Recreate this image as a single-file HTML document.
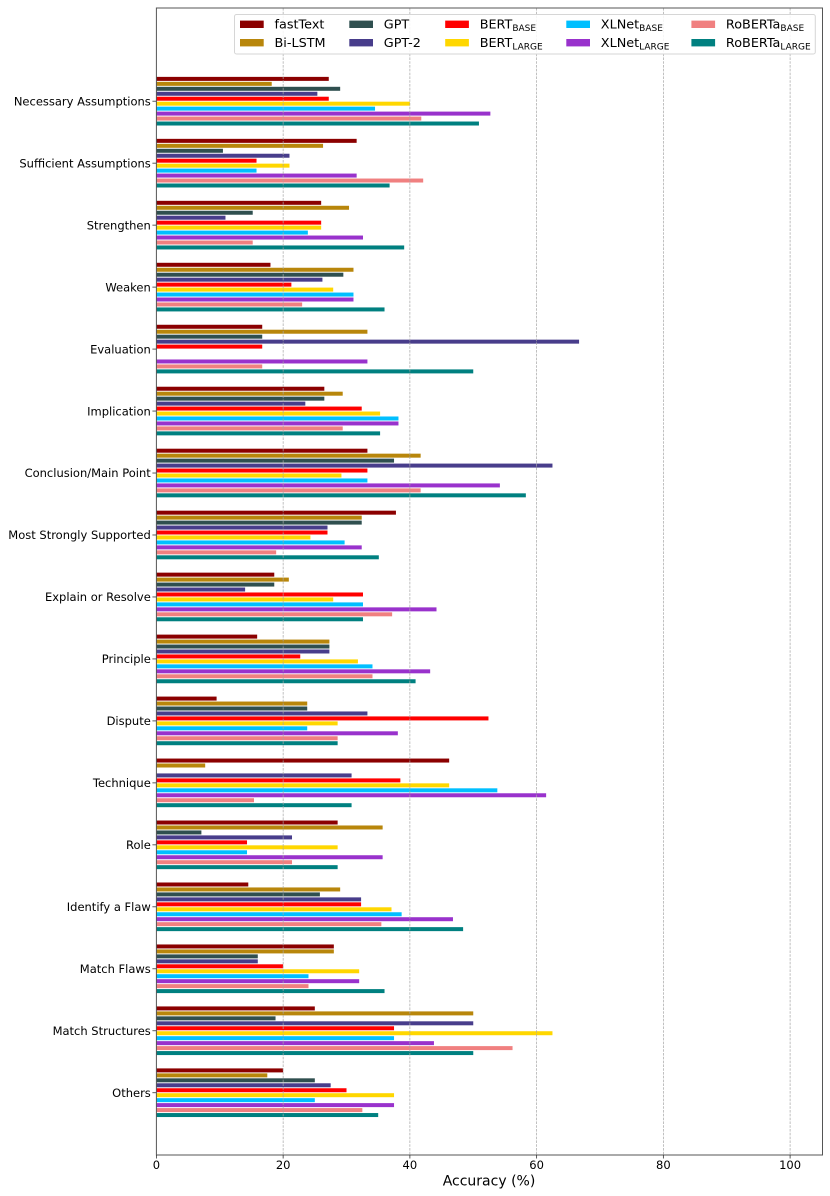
<!DOCTYPE html>
<html>
<head>
<meta charset="utf-8">
<style>
html,body{margin:0;padding:0;background:#fff;}
svg{display:block;}
text{font-family:"DejaVu Sans","Liberation Sans",sans-serif;fill:#000;}
</style>
</head>
<body>
<svg id="chart" xmlns="http://www.w3.org/2000/svg" width="830" height="1196" viewBox="0 0 830 1196"></svg>
<script>
const categories = ["Necessary Assumptions","Sufficient Assumptions","Strengthen","Weaken","Evaluation","Implication","Conclusion/Main Point","Most Strongly Supported","Explain or Resolve","Principle","Dispute","Technique","Role","Identify a Flaw","Match Flaws","Match Structures","Others"];
const xTicks = [0,20,40,60,80,100];
const fastText    = [27.2,31.6,26.0,18.0,16.7,26.5,33.3,37.8,18.6,15.9,9.5,46.2,28.6,14.5,28.0,25.0,20.0];
const biLstm      = [18.2,26.3,30.4,31.1,33.3,29.4,41.7,32.4,20.9,27.3,23.8,7.7,35.7,29.0,28.0,50.0,17.5];
const gpt         = [29.0,10.5,15.2,29.5,16.7,26.5,37.5,32.4,18.6,27.3,23.8,0,7.1,25.8,16.0,18.8,25.0];
const gpt2        = [25.4,21.0,10.9,26.2,66.7,23.5,62.5,27.0,14.0,27.3,33.3,30.8,21.4,32.3,16.0,50.0,27.5];
const bertBase    = [27.2,15.8,26.0,21.3,16.7,32.4,33.3,27.0,32.6,22.7,52.4,38.5,14.3,32.3,20.0,37.5,30.0];
const bertLarge   = [40.0,21.0,26.0,27.9,0,35.3,29.2,24.3,27.9,31.8,28.6,46.2,28.6,37.1,32.0,62.5,37.5];
const xlnetBase   = [34.5,15.8,23.9,31.1,0,38.2,33.3,29.7,32.6,34.1,23.8,53.8,14.3,38.7,24.0,37.5,25.0];
const xlnetLarge  = [52.7,31.6,32.6,31.1,33.3,38.2,54.2,32.4,44.2,43.2,38.1,61.5,35.7,46.8,32.0,43.8,37.5];
const robertaBase = [41.8,42.1,15.2,23.0,16.7,29.4,41.7,18.9,37.2,34.1,28.6,15.4,21.4,35.5,24.0,56.2,32.5];
const robertaLarge= [50.9,36.8,39.1,36.0,50.0,35.3,58.3,35.1,32.6,40.9,28.6,30.8,28.6,48.4,36.0,50.0,35.0];

const seriesValues = [fastText,biLstm,gpt,gpt2,bertBase,bertLarge,xlnetBase,xlnetLarge,robertaBase,robertaLarge];
const seriesKeys = ["fasttext","bi-lstm","gpt","gpt-2","bert-base","bert-large","xlnet-base","xlnet-large","roberta-base","roberta-large"];
const seriesLabels = ["fastText","Bi-LSTM","GPT","GPT-2","BERT","BERT","XLNet","XLNet","RoBERTa","RoBERTa"];
const seriesSubs = ["","","","","BASE","LARGE","BASE","LARGE","BASE","LARGE"];
const seriesColors = ["#8b0000","#b8860b","#2f4f4f","#483d8b","#ff0000","#ffd700","#00bfff","#9932cc","#f08080","#008080"];

const NS = "http://www.w3.org/2000/svg";
const svg = document.getElementById("chart");
const plot = {left:156.4,right:822.5,top:8,bottom:1155};
function xScale(v){ return plot.left + v*6.337; }
function yGroup(i){ return 101.2 + i*61.97; }
function yBar(i,s){ return yGroup(i) + (s-4.5)*4.96; }
function make(tag,attrs,parent){
  const el = document.createElementNS(NS,tag);
  for(const k in attrs) el.setAttribute(k,attrs[k]);
  (parent||svg).appendChild(el);
  return el;
}

// bars
const barsLayer = make("g",{});


categories.forEach(function(cat,i){
  seriesValues.forEach(function(vals,s){
    if(vals[i]<=0) return;
    const r = make("rect",{x:plot.left,y:(yBar(i,s)-2).toFixed(2),width:(xScale(vals[i])-plot.left).toFixed(2),height:4,fill:seriesColors[s]},barsLayer);
    
    
  });
});

// gridlines
xTicks.forEach(function(t){
  if(t===0) return;
  const g = make("line",{x1:xScale(t),x2:xScale(t),y1:plot.top,y2:plot.bottom,stroke:"#a6a6a6","stroke-width":0.7,"stroke-dasharray":"2.6 1.2"});
  
  
});

// spines
const frame = make("rect",{x:plot.left,y:plot.top,width:plot.right-plot.left,height:plot.bottom-plot.top,fill:"none",stroke:"#555","stroke-width":1});



// x ticks
xTicks.forEach(function(t){
  const m = make("line",{x1:xScale(t),x2:xScale(t),y1:plot.bottom,y2:plot.bottom+3.5,stroke:"#333","stroke-width":0.8});
  
  
  const l = make("text",{x:xScale(t),y:1169,"text-anchor":"middle","font-size":"11.5"});
  l.textContent = t;
  
  
});

// y ticks
categories.forEach(function(cat,i){
  const m = make("line",{x1:plot.left-4,x2:plot.left,y1:yGroup(i),y2:yGroup(i),stroke:"#333","stroke-width":0.8});
  
  
  const l = make("text",{x:150.8,y:yGroup(i)+4.2,"text-anchor":"end","font-size":"11.5"});
  l.textContent = cat;
  
  
});

// x axis title
const xTitle = make("text",{x:489,y:1185.5,"text-anchor":"middle","font-size":"14"});
xTitle.textContent = "Accuracy (%)";



// legend
const legend = make("g",{});


const legendBox = make("rect",{x:234.5,y:14.5,width:580.8,height:39.5,rx:2,fill:"#fff","fill-opacity":0.85,stroke:"#d6d6d6","stroke-width":1},legend);


const legendCols = [240,349.3,445.2,566.3,691.4];
seriesLabels.forEach(function(label,s){
  const col = Math.floor(s/2), row = s%2;
  const px = legendCols[col], cy = row===0 ? 24.3 : 42.7;
  const entry = make("g",{},legend);
  
  
  make("rect",{x:px,y:cy-3.7,width:23.7,height:7.4,fill:seriesColors[s]},entry);
  const t = make("text",{x:px+34.5,y:cy+4.4,"font-size":"12.8"},entry);
  t.appendChild(document.createTextNode(label));
  if(seriesSubs[s]){
    const sub = make("tspan",{"font-size":"9",dy:"2.2"},t);
    sub.textContent = seriesSubs[s];
  }
});
</script>
</body>
</html>
